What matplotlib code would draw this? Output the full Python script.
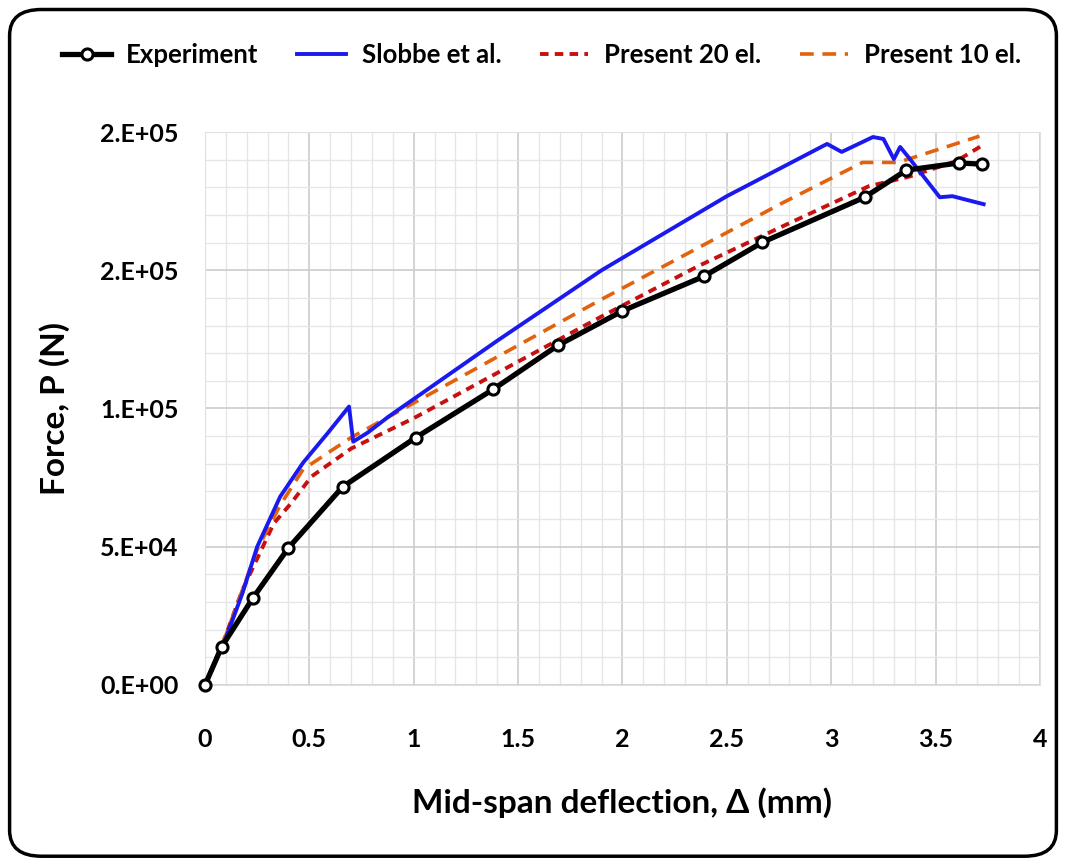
"""Force vs mid-span deflection: experiment, Slobbe et al. and present model."""
import matplotlib
matplotlib.use("Agg")
import matplotlib.pyplot as plt
from matplotlib.patches import FancyBboxPatch
from matplotlib.ticker import FuncFormatter, MultipleLocator

plt.rcParams["font.family"] = ["Lato", "DejaVu Sans"]
plt.rcParams["font.weight"] = "bold"
plt.rcParams["axes.labelweight"] = "bold"

exp_x = [0.0, 0.08, 0.23, 0.40, 0.66, 1.01, 1.38, 1.69, 2.00, 2.39, 2.67, 3.16, 3.36, 3.61, 3.72]
exp_f = [0, 13800, 31500, 49600, 71700, 89500, 106900, 122800, 135300, 147800, 160100,
         176400, 186200, 188800, 188400]

slobbe_x = [0.0, 0.10, 0.18, 0.25, 0.36, 0.47, 0.59, 0.69, 0.71, 0.78, 0.88, 1.40, 1.90,
            2.50, 2.98, 3.05, 3.20, 3.25, 3.30, 3.33, 3.37, 3.52, 3.58, 3.73]
slobbe_f = [0, 17000, 33300, 50000, 68100, 80400, 91300, 100700, 88000, 91300, 97100,
            124500, 150000, 176800, 195700, 192800, 198200, 197500, 190200, 194600,
            190900, 176400, 176800, 173900]

p20_x = [0.0, 0.10, 0.18, 0.33, 0.41, 0.51, 0.70, 1.00, 1.90, 2.36, 2.77, 3.18, 3.38, 3.60, 3.72]
p20_f = [0, 18000, 34500, 58500, 65500, 75400, 85500, 96500, 133300, 151400, 166000,
         180400, 184000, 189500, 195000]

p10_x = [0.0, 0.10, 0.25, 0.36, 0.47, 0.70, 1.90, 2.77, 3.15, 3.32, 3.71]
p10_f = [0, 18000, 49000, 65000, 78000, 89500, 139500, 174500, 189000, 189000, 198500]

fig = plt.figure(figsize=(10.66, 8.64), dpi=100)
ax = fig.add_axes([0.1923, 0.2072, 0.7833, 0.6400])

ax.plot(exp_x, exp_f, color="black", lw=3.8, marker="o", ms=8, mfc="white",
        mec="black", mew=2.2, label="Experiment", zorder=5, clip_on=False)
ax.plot(slobbe_x, slobbe_f, color="#1a1aee", lw=2.8, label="Slobbe et al.", zorder=4)
ax.plot(p20_x, p20_f, color="#c81010", lw=2.8, ls=(0, (2.2, 1.6)), label="Present 20 el.",
        zorder=3)
ax.plot(p10_x, p10_f, color="#e2620e", lw=2.6, ls=(0, (3.8, 2.4)), label="Present 10 el.",
        zorder=3)

ax.set_xlim(0, 4)
ax.set_ylim(0, 200000)
ax.xaxis.set_major_locator(MultipleLocator(0.5))
ax.xaxis.set_minor_locator(MultipleLocator(0.1))
ax.yaxis.set_major_locator(MultipleLocator(50000))
ax.yaxis.set_minor_locator(MultipleLocator(10000))
ax.xaxis.set_major_formatter(FuncFormatter(lambda v, p: f"{v:g}"))
ax.yaxis.set_major_formatter(FuncFormatter(lambda v, p: f"{v:#.0E}"))
ax.grid(True, which="major", color="#cccccc", lw=1.2)
ax.grid(True, which="minor", color="#e6e6e6", lw=1.0)
ax.set_axisbelow(True)
ax.tick_params(which="both", length=0, labelsize=18)
ax.tick_params(axis="y", pad=19)
ax.tick_params(axis="x", pad=31)
for s in ax.spines.values():
    s.set_color("#e0e0e0")

ax.set_xlabel("Mid-span deflection, Δ (mm)", fontsize=24, labelpad=26)
ax.set_ylabel("Force, P (N)", fontsize=24, labelpad=22)

ax.legend(loc="center", bbox_to_anchor=(0.508, 0.936), bbox_transform=fig.transFigure,
          ncol=4, frameon=False, fontsize=18.5, handlelength=1.9, columnspacing=1.5,
          handletextpad=0.6)

fig.patches.append(FancyBboxPatch((0.009, 0.009), 0.982, 0.98,
                                  boxstyle="round,pad=0,rounding_size=0.03",
                                  transform=fig.transFigure, fill=False,
                                  ec="black", lw=2.5))

fig.savefig("out.png", dpi=100)
